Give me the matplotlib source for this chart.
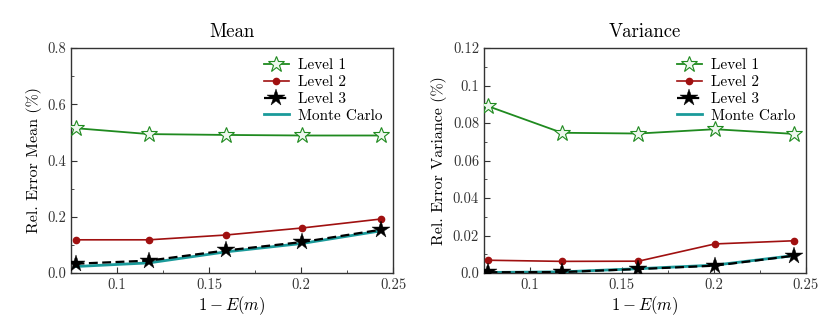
import matplotlib
matplotlib.use('Agg')
import matplotlib.pyplot as plt
from matplotlib.ticker import MultipleLocator

plt.rcParams['font.family'] = ['cmr10', 'DejaVu Serif']
plt.rcParams['mathtext.fontset'] = 'cm'
plt.rcParams['axes.unicode_minus'] = False
plt.rcParams['axes.formatter.use_mathtext'] = True

# x axis: 1 - E(m)
x = [0.0775, 0.1174, 0.159, 0.2005, 0.2435]

# relative error of the mean (%)
mean_l1 = [0.515, 0.494, 0.491, 0.489, 0.489]
mean_l2 = [0.118, 0.118, 0.135, 0.160, 0.192]
mean_l3 = [0.033, 0.044, 0.080, 0.110, 0.154]
mean_mc = [0.023, 0.036, 0.075, 0.105, 0.150]

# relative error of the variance (%)
var_l1 = [0.0889, 0.0748, 0.0744, 0.0767, 0.0742]
var_l2 = [0.0068, 0.0062, 0.0063, 0.0155, 0.0172]
var_l3 = [0.0004, 0.0005, 0.0021, 0.0039, 0.0092]
var_mc = [0.0003, 0.0006, 0.0023, 0.0042, 0.0093]

labels = ['Level 1', 'Level 2', 'Level 3', 'Monte Carlo']

fig = plt.figure(figsize=(8.3, 3.26), dpi=100)
ax1 = fig.add_axes([0.0855, 0.1626, 0.388, 0.690])
ax2 = fig.add_axes([0.583, 0.1626, 0.388, 0.690])


def draw(ax, l1, l2, l3, mc, title, ylabel, ymax, ymaj, ymin):
	ax.plot(x, mc, color='#1a9a9a', lw=2.0, label=labels[3], zorder=2)
	ax.plot(x, l1, color='#1f8a1f', lw=1.3, marker='*', ms=12,
		markerfacecolor='#eef7ee', markeredgecolor='#1f8a1f', markeredgewidth=0.8,
		label=labels[0], zorder=3)
	ax.plot(x, l2, color='#a01010', lw=1.2, marker='o', ms=4.5,
		label=labels[1], zorder=3)
	ax.plot(x, l3, color='black', lw=1.6, ls=(0, (4, 2)), marker='*', ms=13,
		markerfacecolor='black', markeredgecolor='black', markeredgewidth=0.3,
		label=labels[2], zorder=4)

	ax.set_xlim(0.075, 0.25)
	ax.set_ylim(0, ymax)
	ax.xaxis.set_major_locator(MultipleLocator(0.05))
	ax.xaxis.set_minor_locator(MultipleLocator(0.025))
	ax.yaxis.set_major_locator(MultipleLocator(ymaj))
	ax.yaxis.set_minor_locator(MultipleLocator(ymin))
	ax.set_xticks([0.1, 0.15, 0.2, 0.25])
	ax.set_xticklabels(['0.1', '0.15', '0.2', '0.25'])
	ax.tick_params(which='both', direction='in', top=False, right=False,
		labelsize=10.5, colors='#333333')
	ax.tick_params(which='major', length=4)
	ax.tick_params(which='minor', length=2.5)
	for s in ax.spines.values():
		s.set_color('#333333')
		s.set_linewidth(1.0)

	ax.set_title(title, fontsize=13.5, pad=8)
	ax.set_xlabel(r'$1-E(m)$', fontsize=12, labelpad=2)
	ax.set_ylabel(ylabel, fontsize=11.5, labelpad=4)

	h, lab = ax.get_legend_handles_labels()
	order = [1, 2, 3, 0]
	ax.legend([h[i] for i in order], [lab[i] for i in order], loc='upper right',
		frameon=False, fontsize=11, handlelength=1.6, labelspacing=0.2,
		borderaxespad=0.3, handletextpad=0.6)


draw(ax1, mean_l1, mean_l2, mean_l3, mean_mc, 'Mean', r'Rel. Error Mean (%)', 0.8, 0.2, 0.1)
ax1.set_yticks([0, 0.2, 0.4, 0.6, 0.8])
ax1.set_yticklabels(['0.0', '0.2', '0.4', '0.6', '0.8'])

draw(ax2, var_l1, var_l2, var_l3, var_mc, 'Variance', r'Rel. Error Variance (%)', 0.12, 0.02, 0.01)
ax2.set_yticks([0, 0.02, 0.04, 0.06, 0.08, 0.1, 0.12])
ax2.set_yticklabels(['0.0', '0.02', '0.04', '0.06', '0.08', '0.1', '0.12'])

fig.savefig('out.png', dpi=100)
